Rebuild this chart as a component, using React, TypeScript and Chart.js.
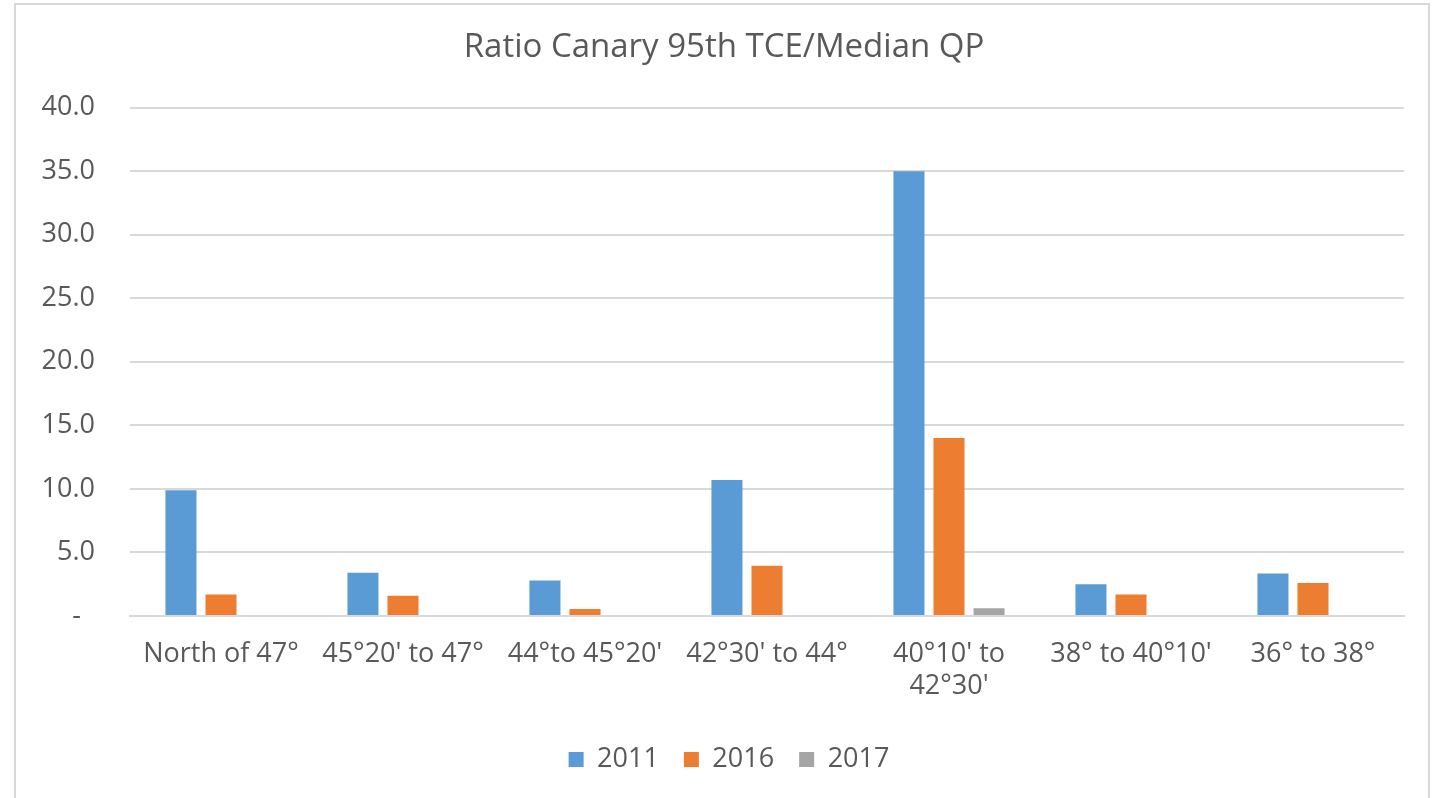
import React, { useEffect, useRef } from "react";
import { Chart, registerables } from "chart.js";

Chart.register(...registerables);

const categories: (string | string[])[] = [
  "North of 47°",
  "45°20' to 47°",
  "44°to 45°20'",
  "42°30' to 44°",
  ["40°10' to", "42°30'"],
  "38° to 40°10'",
  "36° to 38°",
];
const values2011: (number | null)[] = [9.9, 3.4, 2.8, 10.7, 35.0, 2.5, 3.35];
const values2016: (number | null)[] = [1.7, 1.6, 0.55, 3.95, 14.0, 1.7, 2.6];
const values2017: (number | null)[] = [null, null, null, null, 0.6, null, null];
const seriesNames = ["2011", "2016", "2017"];
const seriesColors = ["#5B9BD5", "#ED7D31", "#A5A5A5"];
const titleText = "Ratio Canary 95th TCE/Median QP";

const TEXT = "#595959";
const GRID = "#D9D9D9";
const FONT = "'Open Sans', 'Noto Sans', sans-serif";

const shiftPlugin = {
  id: "shiftBoxes",
  afterLayout(chart: any) {
    if (chart.titleBlock) {
      chart.titleBlock.left += 22;
      chart.titleBlock.right += 22;
    }
    if (chart.legend) {
      chart.legend.left += 27;
      chart.legend.right += 27;
    }
  },
};

export default function App() {
  const ref = useRef<HTMLCanvasElement | null>(null);

  useEffect(() => {
    document.body.style.margin = "0";
    const canvas = ref.current;
    if (!canvas) return;
    const data = [values2011, values2016, values2017];
    const chart = new Chart(canvas, {
      type: "bar",
      data: {
        labels: categories,
        datasets: seriesNames.map((name, i) => ({
          label: name,
          data: data[i],
          backgroundColor: seriesColors[i],
          borderWidth: 0,
          barPercentage: 0.775,
          categoryPercentage: 0.66,
        })),
      },
      plugins: [shiftPlugin],
      options: {
        responsive: false,
        animation: false,
        maintainAspectRatio: false,
        layout: { padding: { left: 0, right: 39, top: 0, bottom: 15 } },
        plugins: {
          tooltip: { enabled: false },
          title: {
            display: true,
            text: titleText,
            color: TEXT,
            font: { family: FONT, size: 33, weight: "normal" as any },
            padding: { top: 28, bottom: 40 },
          },
          legend: {
            position: "bottom",
            labels: {
              color: TEXT,
              font: { family: FONT, size: 27 },
              boxWidth: 15,
              boxHeight: 15,
              padding: 25,
            },
          },
        },
        scales: {
          x: {
            grid: { display: false, drawTicks: false },
            border: { display: true, color: GRID, width: 2 },
            ticks: {
              color: TEXT,
              font: { family: FONT, size: 27 },
              padding: 22,
              maxRotation: 0,
              autoSkip: false,
            },
            afterFit: (scale: any) => {
              scale.height = 105;
            },
          },
          y: {
            min: 0,
            max: 40,
            grid: { color: GRID, lineWidth: 2, drawTicks: false },
            border: { display: false },
            ticks: {
              stepSize: 5,
              color: TEXT,
              font: { family: FONT, size: 27 },
              padding: 35,
              callback: (v: any) => (Number(v) === 0 ? "-  " : Number(v).toFixed(1)),
            },
            afterFit: (scale: any) => {
              scale.width = 130;
            },
          },
        },
      },
    });
    return () => chart.destroy();
  }, []);

  return (
    <div style={{ position: "relative", width: 1443, height: 798, overflow: "hidden", background: "#fff" }}>
      <div
        style={{
          position: "absolute",
          left: 14,
          top: 3,
          width: 1416,
          height: 830,
          border: `2px solid ${GRID}`,
          boxSizing: "border-box",
        }}
      />
      <canvas ref={ref} width={1443} height={798} style={{ position: "absolute", left: 0, top: 0 }} />
    </div>
  );
}
